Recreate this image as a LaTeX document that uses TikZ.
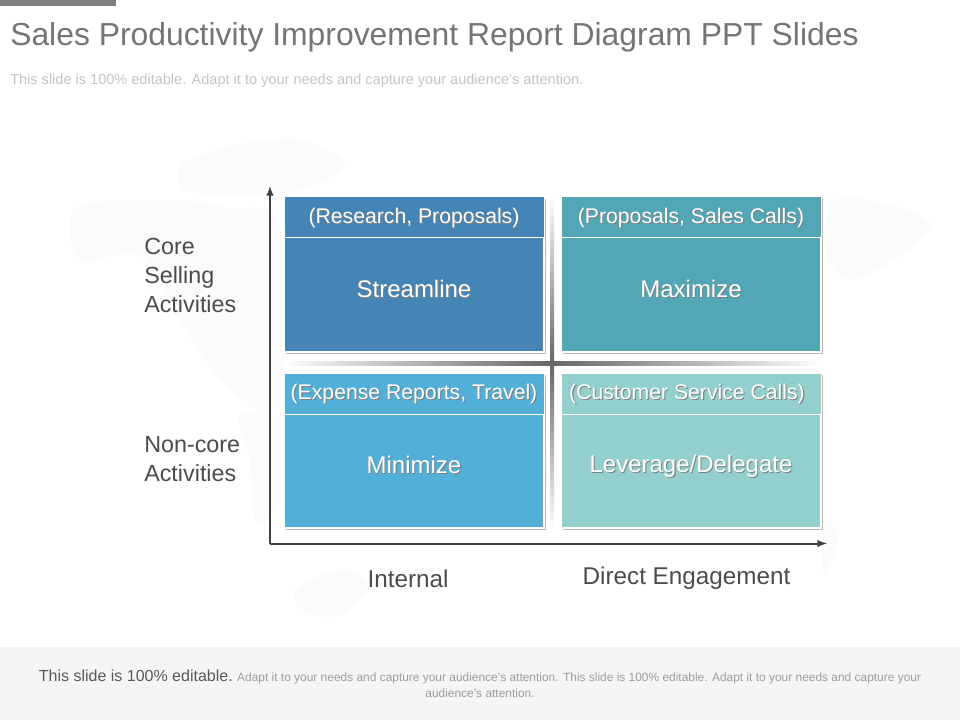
\documentclass[tikz,border=0pt]{standalone}
\usepackage{fontspec}
\setmainfont{Liberation Sans}
\usetikzlibrary{positioning, arrows, shadows}
\definecolor{titlegrey}{HTML}{757575}
\definecolor{subgrey}{HTML}{C4C4C4}
\definecolor{footgrey}{HTML}{F5F5F5}
\definecolor{axisgrey}{HTML}{404040}
\definecolor{mapgrey}{HTML}{FBFBFB}
\definecolor{streamblue}{HTML}{4485B6}
\definecolor{maxteal}{HTML}{52A6B6}
\definecolor{minblue}{HTML}{52AFD8}
\definecolor{levgreen}{HTML}{92CFCD}
% soft shadow behind the white labels
\newcommand{\softtext}[1]{\leavevmode\rlap{\hspace{0.8pt}\raisebox{-0.8pt}{\color{black!50}#1}}#1}
\tikzset{
  x=0.75pt, y=-0.75pt,
  quadbox/.style={
	draw=white, line width=0.9pt, outer sep=0pt,
	minimum width=195pt, minimum height=116.25pt, inner sep=0pt,
	drop shadow={shadow xshift=1.5pt, shadow yshift=-1.5pt, fill=black!55},
  },
  headbox/.style={
	draw=white, line width=0.75pt, outer sep=0pt,
	minimum width=195pt, minimum height=30.75pt, inner sep=0pt,
	text height=12.5pt, text depth=4pt,
	text=white, font=\fontsize{15.9}{15.9}\selectfont,
  },
  quadlabel/.style={text=white, font=\fontsize{18}{18}\selectfont, inner sep=0pt, yshift=-69pt},
  sidelabel/.style={text=black!70, font=\fontsize{17.5}{21.75}\selectfont, inner sep=0pt},
  axislabel/.style={text=black!70, font=\fontsize{18.2}{18.2}\selectfont, inner sep=0pt},
  axisline/.style={
	-latex, draw=axisgrey, line width=1.5pt,
  },
}
\begin{document}
\begin{tikzpicture}
\useasboundingbox (0,0) rectangle (960,720);
\fill[white] (0,0) rectangle (960,720);
% map behind the matrix
\fill[mapgrey] plot[smooth cycle] coordinates {(77,207) (177,200) (225,208) (280,225) (280,405) (227,387) (180,320) (140,255) (80,260)};
\fill[mapgrey] plot[smooth cycle] coordinates {(182,165) (235,145) (300,140) (345,165) (300,190) (240,195) (185,190)};
\fill[mapgrey] plot[smooth cycle] coordinates {(240,415) (290,420) (300,460) (275,510) (255,520) (250,460)};
\fill[mapgrey] plot[smooth cycle] coordinates {(835,200) (890,205) (930,225) (900,255) (850,280) (825,250)};
\fill[mapgrey] plot[smooth cycle] coordinates {(825,520) (838,535) (830,565) (822,570)};
\fill[mapgrey] plot[smooth cycle] coordinates {(295,590) (340,570) (370,585) (340,615) (305,612)};
% top bar and footer band
\fill[gray] (0,0) rectangle (116,6.5);
\fill[footgrey] (0,647) rectangle (960,720);
\node[anchor=west, inner sep=0pt, text=titlegrey, font=\fontsize{23.9}{23.9}\selectfont] (title) at (10,37.5) {Sales Productivity Improvement Report Diagram PPT Slides};
\node[anchor=west, inner sep=0pt, text=subgrey, font=\fontsize{10.9}{10.9}\selectfont] (subtitle) at (10,81) {This slide is 100\% editable. Adapt it to your needs and capture your audience's attention.};
% the four quadrants
\node[quadbox, fill=streamblue] (streamline) at (414,274.5) {};
\node[quadbox, fill=maxteal, right=12.75pt of streamline] (maximize) {};
\node[quadbox, fill=minblue, below=15.75pt of streamline] (minimize) {};
\node[quadbox, fill=levgreen, right=12.75pt of minimize] (leverage) {};
\node[headbox, fill=streamblue, below=0pt of streamline.north] (streamhead) {\softtext{(Research, Proposals)}};
\node[headbox, fill=maxteal, below=0pt of maximize.north] (maxhead) {\softtext{(Proposals, Sales Calls)}};
\node[headbox, fill=minblue, below=0pt of minimize.north] (minhead) {\softtext{(Expense Reports, Travel)}};
\node[headbox, fill=levgreen, below=0pt of leverage.north] (levhead) {\softtext{(Customer Service Calls)}\kern6pt};
\node[quadlabel, at=(streamline.north)] (streamtext) {\softtext{Streamline}};
\node[quadlabel, at=(maximize.north)] (maxtext) {\softtext{Maximize}};
\node[quadlabel, at=(minimize.north)] (mintext) {\softtext{Minimize}};
\node[quadlabel, at=(leverage.north), yshift=-1.2pt] (levtext) {\softtext{Leverage/Delegate}};
% faded cross between the quadrants
\shade[left color=white, right color=black!60] (282,361) rectangle (552,365);
\shade[left color=black!60, right color=white] (552,361) rectangle (822,365);
\shade[top color=white, bottom color=black!60] (550,195) rectangle (554,363);
\shade[top color=black!60, bottom color=white] (550,363) rectangle (554,530);
% axes
\coordinate (origin) at (270,543.5);
\coordinate (ytip) at (270,186);
\coordinate (xtip) at (827,543.5);
\draw[axisline] (origin) -- (ytip);
\draw[axisline] (origin) -- (xtip);
% axis captions
\node[sidelabel, anchor=west, align=left] (core) at (144,275) {Core\\Selling\\Activities};
\node[sidelabel, anchor=west, align=left] (noncore) at (144,459.5) {Non-core\\Activities};
\node[axislabel] (internal) at (408,578.5) {Internal};
\node[axislabel] (direct) at (686.5,578) {Direct Engagement};
% footer text
\node[align=center, inner sep=0pt, text=subgrey!80!black, font=\fontsize{8.95}{12}\selectfont] (footer) at (480,684) {{\fontsize{12}{12}\selectfont\color{black!65}This slide is 100\% editable.} Adapt it to your needs and capture your audience's attention. This slide is 100\% editable. Adapt it to your needs and capture your\\audience's attention.};
\end{tikzpicture}
\end{document}
